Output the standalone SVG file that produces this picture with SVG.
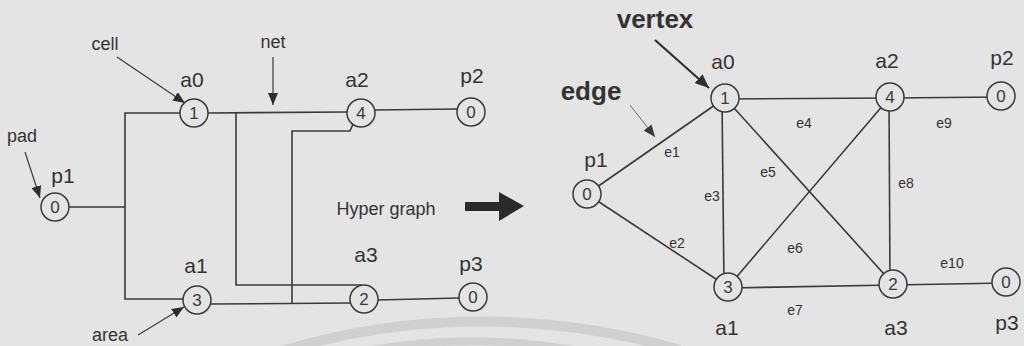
<svg xmlns="http://www.w3.org/2000/svg" width="1024" height="346" viewBox="0 0 1024 346">
<defs>
<marker id="ah" markerUnits="userSpaceOnUse" markerWidth="12" markerHeight="10" refX="12" refY="5" orient="auto"><path d="M0,0 L12,5 L0,10 z" fill="#2e2e2e"/></marker>
<marker id="ahb" markerUnits="userSpaceOnUse" markerWidth="14" markerHeight="12" refX="14" refY="6" orient="auto"><path d="M0,0 L14,6 L0,12 z" fill="#2e2e2e"/></marker>
<marker id="ahl" markerUnits="userSpaceOnUse" markerWidth="12" markerHeight="10" refX="12" refY="5" orient="auto"><path d="M0,0 L12,5 L0,10 z" fill="#3a3a3a"/></marker>
</defs>
<style>
.n circle{fill:#e4e4e4;stroke:#3a3a3a;stroke-width:1.5}
.d{font-family:"Liberation Sans",Arial,sans-serif;font-size:17px;fill:#3a3a3a;text-anchor:middle}
.lb{font-family:"Liberation Sans",Arial,sans-serif;font-size:21px;fill:#333;text-anchor:middle}
.sm{font-family:"Liberation Sans",Arial,sans-serif;font-size:18px;fill:#333;text-anchor:middle}
.el{font-family:"Liberation Sans",Arial,sans-serif;font-size:14px;fill:#333;text-anchor:middle}
.bd{font-family:"Liberation Sans",Arial,sans-serif;font-size:26px;font-weight:bold;fill:#333;text-anchor:middle}
.w{fill:none;stroke:#3a3a3a;stroke-width:1.6}
.p{fill:none;stroke:#3a3a3a;stroke-width:1.2}
</style>
<rect width="1024" height="346" fill="#e4e4e4"/>
<g id="watermark" fill="none" stroke="#d0d0d0">
<path d="M 285 350 A 700 700 0 0 1 680 350" stroke-width="10"/>
<path d="M 360 352 A 600 600 0 0 1 585 352" stroke-width="8"/>
</g>

<g id="connectors">
<polyline class="w" points="180,113 125,113 125,299 183,299"/>
<line class="w" x1="69" y1="207" x2="125" y2="207"/>
<line class="w" x1="208" y1="113" x2="347" y2="112"/>
<polyline class="w" points="236,113 236,285 362,285"/>
<polyline class="w" points="292,304 292,131 350,131 353,124"/>
<line class="w" x1="211" y1="304" x2="351" y2="303"/>
<line class="w" x1="378" y1="300" x2="459" y2="298"/>
<line class="w" x1="375" y1="110" x2="457" y2="109"/>
<line class="w" x1="587" y1="194" x2="725" y2="98"/>
<line class="w" x1="587" y1="194" x2="728" y2="287"/>
<line class="w" x1="722" y1="98" x2="724" y2="287"/>
<line class="w" x1="725" y1="99" x2="890" y2="98"/>
<line class="w" x1="725" y1="98" x2="893" y2="284"/>
<line class="w" x1="728" y1="287" x2="890" y2="97"/>
<line class="w" x1="728" y1="288" x2="893" y2="285"/>
<line class="w" x1="889" y1="97" x2="890" y2="284"/>
<line class="w" x1="890" y1="98" x2="1001" y2="97"/>
<line class="w" x1="893" y1="285" x2="1006" y2="283"/>
<line class="p" x1="117" y1="57" x2="185" y2="103" marker-end="url(#ah)"/>
<line class="p" x1="273" y1="57" x2="273" y2="105" marker-end="url(#ah)" stroke-width="1"/>
<line class="p" x1="25" y1="152" x2="40" y2="198" marker-end="url(#ah)" stroke-width="1"/>
<line class="p" x1="138" y1="335" x2="184" y2="307" marker-end="url(#ah)" stroke-width="1"/>
<line x1="655" y1="40" x2="709" y2="88" stroke="#2e2e2e" stroke-width="2.2" marker-end="url(#ahb)"/>
<line x1="630" y1="105" x2="655" y2="137" stroke="#6a6a6a" stroke-width="1" marker-end="url(#ahl)"/>
<rect x="465" y="202" width="36" height="9" fill="#2a2a2a"/>
<polygon points="499,192 524,206 499,221" fill="#2a2a2a"/>
</g>

<g id="L-a0" class="n"><circle cx="194" cy="113" r="14"/><text class="d" x="194" y="119">1</text></g>
<g id="L-a2" class="n"><circle cx="361" cy="113" r="14"/><text class="d" x="361" y="119">4</text></g>
<g id="L-p2" class="n"><circle cx="471" cy="112" r="14"/><text class="d" x="471" y="118">0</text></g>
<g id="L-p1" class="n"><circle cx="55" cy="207" r="14"/><text class="d" x="55" y="213">0</text></g>
<g id="L-a1" class="n"><circle cx="197" cy="300" r="14"/><text class="d" x="197" y="306">3</text></g>
<g id="L-a3" class="n"><circle cx="364" cy="299" r="14"/><text class="d" x="364" y="305">2</text></g>
<g id="L-p3" class="n"><circle cx="473" cy="297" r="14"/><text class="d" x="473" y="303">0</text></g>

<g id="R-a0" class="n"><circle cx="725" cy="98" r="14"/><text class="d" x="725" y="104">1</text></g>
<g id="R-a2" class="n"><circle cx="890" cy="97" r="14"/><text class="d" x="890" y="103">4</text></g>
<g id="R-p2" class="n"><circle cx="1001" cy="96" r="14"/><text class="d" x="1001" y="102">0</text></g>
<g id="R-p1" class="n"><circle cx="587" cy="194" r="14"/><text class="d" x="587" y="200">0</text></g>
<g id="R-a1" class="n"><circle cx="728" cy="287" r="14"/><text class="d" x="728" y="293">3</text></g>
<g id="R-a3" class="n"><circle cx="893" cy="284" r="14"/><text class="d" x="893" y="290">2</text></g>
<g id="R-p3" class="n"><circle cx="1006" cy="282" r="14"/><text class="d" x="1006" y="288">0</text></g>

<g id="labels">
<text class="sm" x="105" y="50">cell</text>
<text class="sm" x="273" y="48">net</text>
<text class="sm" x="22" y="142">pad</text>
<text class="sm" x="110" y="341">area</text>
<text class="sm" x="386" y="215">Hyper graph</text>
<text class="lb" x="192" y="87">a0</text>
<text class="lb" x="357" y="87">a2</text>
<text class="lb" x="472" y="83">p2</text>
<text class="lb" x="63" y="183">p1</text>
<text class="lb" x="196" y="273">a1</text>
<text class="lb" x="366" y="262">a3</text>
<text class="lb" x="471" y="271">p3</text>
<text class="bd" x="655" y="28">vertex</text>
<text class="bd" x="591" y="100">edge</text>
<text class="lb" x="723" y="69">a0</text>
<text class="lb" x="887" y="68">a2</text>
<text class="lb" x="1002" y="65">p2</text>
<text class="lb" x="596" y="167">p1</text>
<text class="lb" x="727" y="335">a1</text>
<text class="lb" x="896" y="335">a3</text>
<text class="lb" x="1007" y="330">p3</text>
<text class="el" x="672" y="157">e1</text>
<text class="el" x="677" y="248">e2</text>
<text class="el" x="712" y="201">e3</text>
<text class="el" x="804" y="128">e4</text>
<text class="el" x="768" y="177">e5</text>
<text class="el" x="795" y="253">e6</text>
<text class="el" x="795" y="315">e7</text>
<text class="el" x="906" y="188">e8</text>
<text class="el" x="944" y="128">e9</text>
<text class="el" x="952" y="268">e10</text>
</g>
</svg>
